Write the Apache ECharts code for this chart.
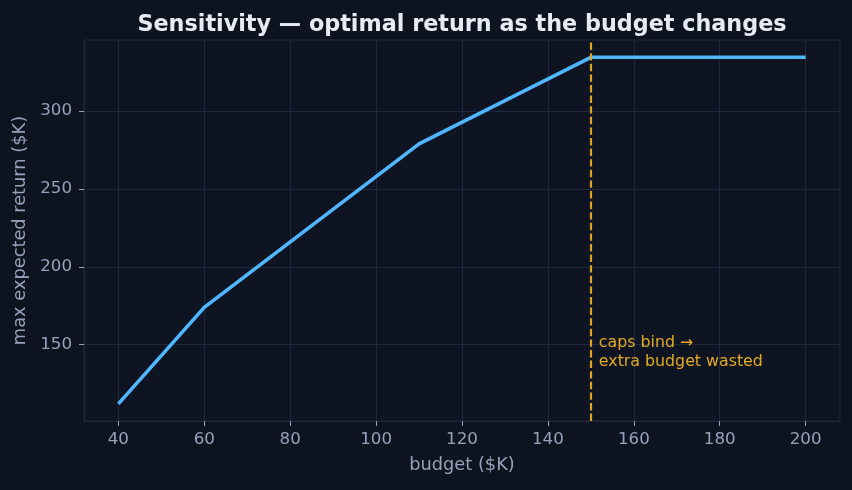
<!DOCTYPE html>
<html>
<head>
<meta charset="utf-8">
<script src="https://cdn.jsdelivr.net/npm/echarts@6/dist/echarts.min.js"></script>
<style>
  html, body { margin: 0; padding: 0; background: #0e1320; }
  #chart { width: 852px; height: 490px; }
</style>
</head>
<body>
<div id="chart"></div>
<script>
// budget ($K) and the best expected return ($K) found for it
var budgets = [40, 60, 110, 150, 200];
var maxReturn = [112, 174, 279, 334.6, 334.6];
var capBudget = 150;
var xTicks = [40, 60, 80, 100, 120, 140, 160, 180, 200];
var yTicks = [150, 200, 250, 300];

var gridColor = '#1f2840';
var labelColor = '#97a1ba';
var gold = '#dba524';

var chart = echarts.init(document.getElementById('chart'));

var option = {
    backgroundColor: '#0e1320',
    animation: false,
    textStyle: { fontFamily: 'DejaVu Sans' },
    title: {
        text: 'Sensitivity — optimal return as the budget changes',
        left: 457,
        textAlign: 'center',
        top: 9,
        textStyle: { color: '#e8ebf3', fontSize: 22.3, fontWeight: 'bold', fontFamily: 'DejaVu Sans' }
    },
    grid: {
        left: 84, right: 12, top: 40, bottom: 69,
        show: true, borderColor: gridColor, borderWidth: 1,
        backgroundColor: '#0e1421'
    },
    xAxis: {
        type: 'value',
        min: 32, max: 208,
        splitNumber: 9,
        name: 'budget ($K)',
        nameLocation: 'middle',
        nameGap: 35,
        nameTextStyle: { color: labelColor, fontSize: 17.8 },
        axisLine: { show: true, lineStyle: { color: gridColor } },
        axisTick: { show: true, length: 5, lineStyle: { color: labelColor }, customValues: xTicks },
        axisLabel: { color: labelColor, fontSize: 16.7, margin: 10, customValues: xTicks },
        splitLine: { show: true, lineStyle: { color: gridColor } }
    },
    yAxis: {
        type: 'value',
        min: 101, max: 345.7,
        name: 'max expected return ($K)',
        nameLocation: 'middle',
        nameGap: 46,
        nameTextStyle: { color: labelColor, fontSize: 17.8 },
        axisLine: { show: true, lineStyle: { color: gridColor } },
        axisTick: { show: true, length: 5, lineStyle: { color: labelColor }, customValues: yTicks },
        axisLabel: { color: labelColor, fontSize: 16.7, margin: 12, customValues: yTicks },
        splitLine: { show: true, lineStyle: { color: gridColor } }
    },
    series: [{
        type: 'line',
        data: budgets.map(function (b, i) { return [b, maxReturn[i]]; }),
        showSymbol: false,
        lineStyle: { color: '#4fb6ff', width: 3.6 },
        z: 3,
        markLine: {
            silent: true,
            symbol: 'none',
            label: { show: false },
            lineStyle: { color: gold, width: 2.2, type: [7.4, 3.2] },
            data: [{ xAxis: capBudget }],
            z: 4
        }
    }]
};

chart.setOption(option);

// annotation placed next to the cap line
var p = chart.convertToPixel({ gridIndex: 0 }, [capBudget, 150]);
chart.setOption({
    graphic: [{
        type: 'text',
        left: p[0] + 8,
        top: p[1] - 11,
        style: {
            text: 'caps bind →\nextra budget wasted',
            fill: '#e3ab22',
            font: '15.8px "DejaVu Sans"',
            lineHeight: 19
        }
    }]
});
</script>
</body>
</html>
